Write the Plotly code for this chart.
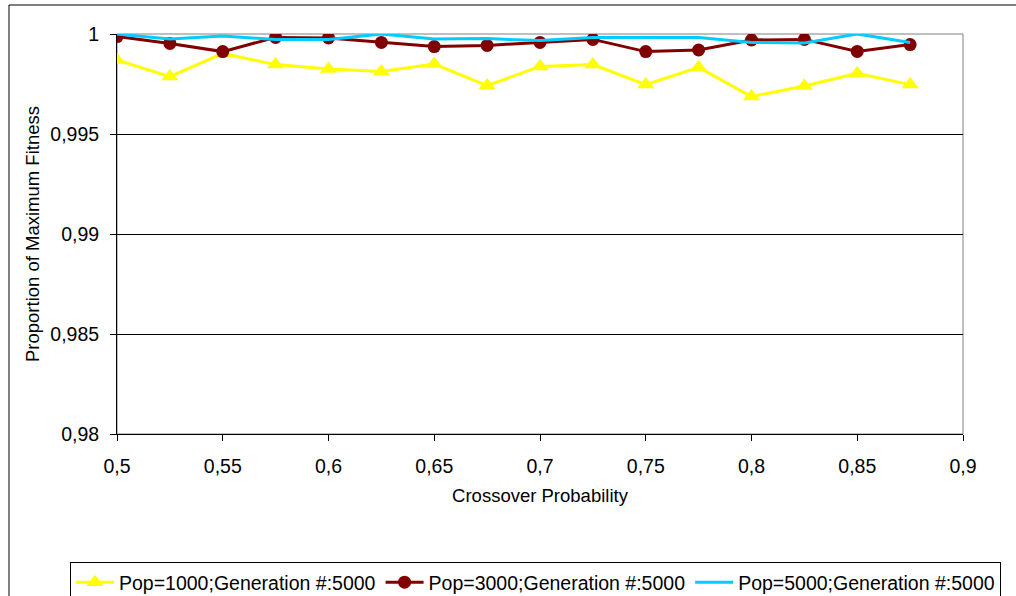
import plotly.graph_objects as go

crossover = [0.5, 0.525, 0.55, 0.575, 0.6, 0.625, 0.65, 0.675, 0.7, 0.725,
             0.75, 0.775, 0.8, 0.825, 0.85, 0.875]
pop1000 = [0.9987, 0.99787, 0.99903, 0.99847, 0.99825, 0.99813, 0.9985, 0.99742,
           0.99838, 0.99847, 0.99747, 0.99833, 0.99687, 0.9974, 0.99803, 0.99747]
pop3000 = [0.99987, 0.99953, 0.99912, 0.99983, 0.9998, 0.99958, 0.99937, 0.99943,
           0.99958, 0.99973, 0.99912, 0.9992, 0.9997, 0.99973, 0.99913, 0.99947]
pop5000 = [1.0, 0.99975, 0.9999, 0.99973, 0.99973, 1.0, 0.99975, 0.99977,
           0.99967, 0.99983, 0.99983, 0.99983, 0.99958, 0.99955, 1.0, 0.99958]

names = ["Pop=1000;Generation #:5000", "Pop=3000;Generation #:5000",
         "Pop=5000;Generation #:5000"]

x_ticks = [0.5, 0.55, 0.6, 0.65, 0.7, 0.75, 0.8, 0.85, 0.9]
x_ticktext = ["0,5", "0,55", "0,6", "0,65", "0,7", "0,75", "0,8", "0,85", "0,9"]
y_ticks = [0.98, 0.985, 0.99, 0.995, 1.0]
y_ticktext = ["0,98", "0,985", "0,99", "0,995", "1"]
grid_vals = [0.985, 0.99, 0.995]

FONT = "Liberation Sans, Arial, sans-serif"
W, H = 1016, 596
L, R, T, B = 117, 53, 34, 162
pw, ph = W - L - R, H - T - B

fig = go.Figure()
fig.add_trace(go.Scatter(x=crossover, y=pop1000, name=names[0], mode="lines+markers",
                         line=dict(color="#FFFF00", width=3),
                         marker=dict(symbol="triangle-up", size=15, color="#FFFF00")))
fig.add_trace(go.Scatter(x=crossover, y=pop3000, name=names[1], mode="lines+markers",
                         line=dict(color="#800000", width=3),
                         marker=dict(symbol="circle", size=13, color="#800000")))
fig.add_trace(go.Scatter(x=crossover, y=pop5000, name=names[2], mode="lines",
                         line=dict(color="#00CCFF", width=3)))
# invisible trace to host the grid axis
fig.add_trace(go.Scatter(x=[crossover[0]], y=[pop5000[0]], yaxis="y2", mode="markers",
                         marker=dict(opacity=0), showlegend=False, hoverinfo="skip"))

fig.update_layout(
    width=W, height=H,
    margin=dict(l=L, r=R, t=T, b=B, autoexpand=False),
    paper_bgcolor="white", plot_bgcolor="white",
    font=dict(family=FONT, size=19.5, color="black"),
    showlegend=True,
    xaxis=dict(range=[0.5, 0.9], tickvals=x_ticks, ticktext=x_ticktext,
               showgrid=False, zeroline=False, showline=True, linecolor="black",
               linewidth=1, ticks="outside", ticklen=6, tickcolor="black",
               ticklabelstandoff=9, tickfont=dict(size=19.5),
               title=dict(text="Crossover Probability", font=dict(size=18.5), standoff=12),
               automargin=False),
    yaxis=dict(range=[0.98, 1.0], tickvals=y_ticks, ticktext=y_ticktext,
               showgrid=False, zeroline=False, showline=True, linecolor="black",
               linewidth=1, ticks="outside", ticklen=6, tickcolor="black",
               ticklabelstandoff=7, tickfont=dict(size=19.5),
               title=dict(text="Proportion of Maximum Fitness", font=dict(size=18.5),
                          standoff=5),
               automargin=False),
    yaxis2=dict(range=[0.98, 1.0], overlaying="y", tickvals=grid_vals,
                showticklabels=False, showgrid=True, gridcolor="black", gridwidth=1,
                zeroline=False, showline=False, ticks=""),
    legend=dict(orientation="h", x=(70 - L) / pw, xanchor="left",
                y=(H - B - 562) / ph, yanchor="top",
                bordercolor="black", borderwidth=1, bgcolor="white",
                font=dict(size=19.5), itemwidth=38, tracegroupgap=0),
    shapes=[
        dict(type="rect", xref="paper", yref="paper", x0=0, x1=1, y0=0, y1=1,
             line=dict(color="#808080", width=1), layer="below"),
        dict(type="rect", xref="paper", yref="paper",
             x0=(9 - L) / pw, x1=(W + 20 - L) / pw,
             y0=(H - B - (H + 20)) / ph, y1=(H - B - 5) / ph,
             line=dict(color="black", width=1), layer="below"),
    ],
)

fig.write_html("out.html")
